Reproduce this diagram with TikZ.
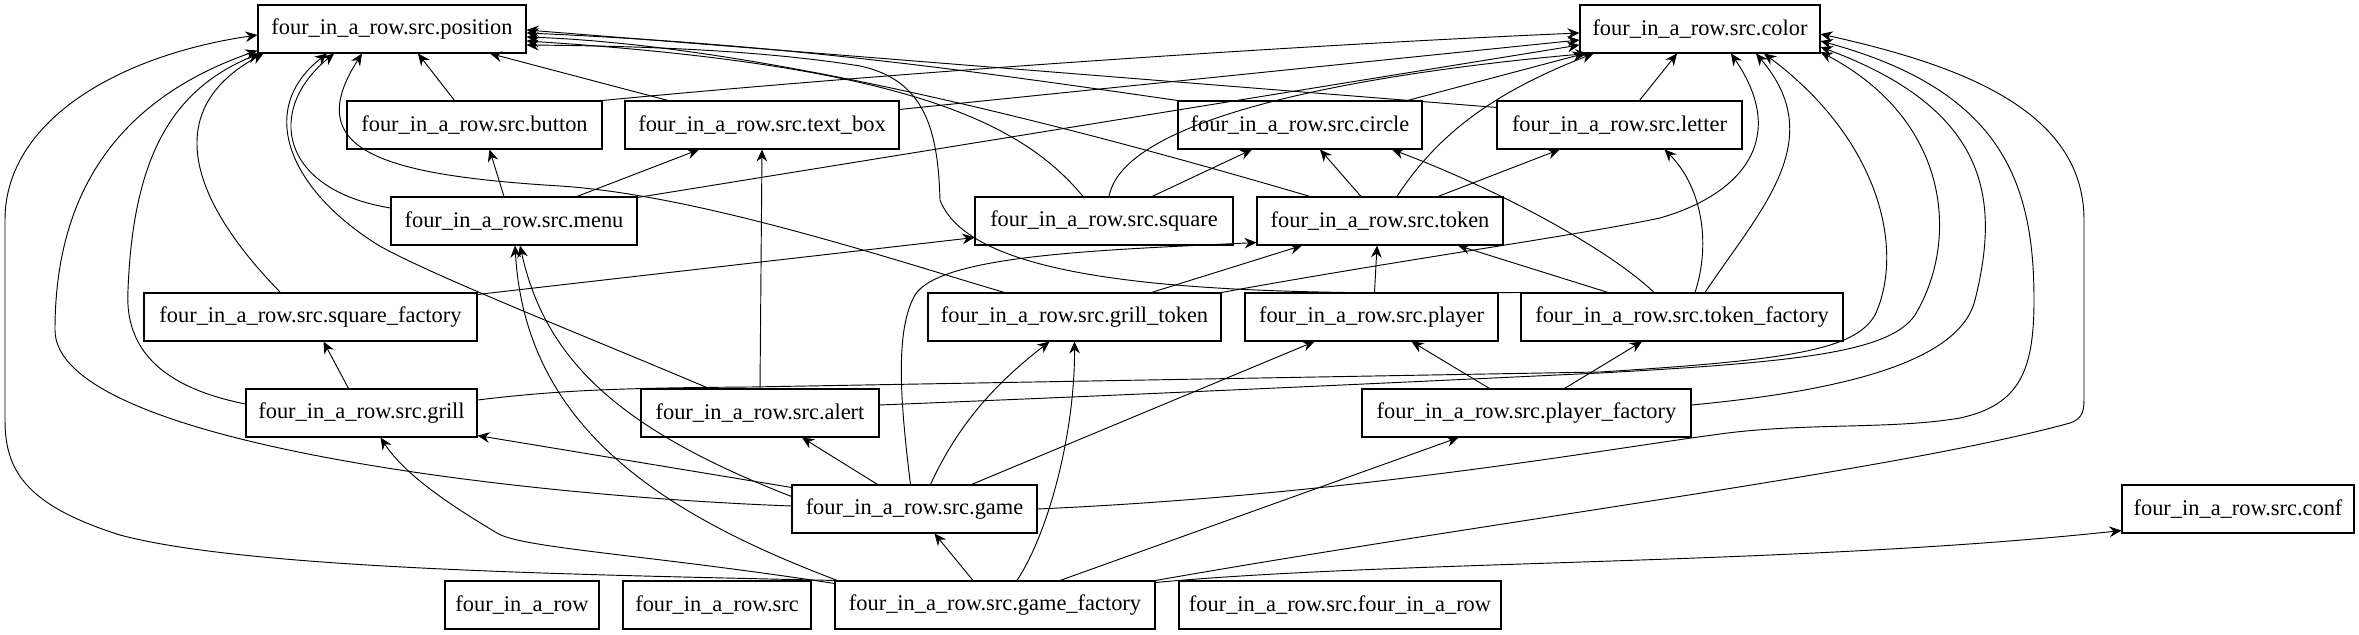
\documentclass[tikz,border=0pt]{standalone}
\usepackage{fontspec}
\setmainfont{Liberation Serif}
\usetikzlibrary{arrows.meta,calc}
\begin{document}
\begin{tikzpicture}[x=0.75pt,y=-0.75pt,
  box/.style={draw, line width=0.8pt, rectangle, minimum height=36pt, inner sep=0pt, font=\fontsize{16.8}{20}\selectfont},
  dep/.style={-{Stealth[length=9pt,width=8pt,inset=3pt]}, line width=0.7pt}]
\fill[white] (0,0) rectangle (2359,635);
\useasboundingbox (0,0) rectangle (2359,635);
% nodes
\node[box, minimum width=201pt]    (position)      at (392,29)    {four\_in\_a\_row.src.position};
\node[box, minimum width=180pt]    (color)         at (1700,29)   {four\_in\_a\_row.src.color};
\node[box, minimum width=191.25pt] (button)        at (474.5,125) {four\_in\_a\_row.src.button};
\node[box, minimum width=205.5pt]  (textbox)       at (762,125)   {four\_in\_a\_row.src.text\_box};
\node[box, minimum width=183pt]    (circle)        at (1300,125)  {four\_in\_a\_row.src.circle};
\node[box, minimum width=183.75pt] (letter)        at (1619.5,125){four\_in\_a\_row.src.letter};
\node[box, minimum width=184.5pt]  (menu)          at (514,221)   {four\_in\_a\_row.src.menu};
\node[box, minimum width=193.5pt]  (square)        at (1104,221)  {four\_in\_a\_row.src.square};
\node[box, minimum width=184.5pt]  (token)         at (1380,221)  {four\_in\_a\_row.src.token};
\node[box, minimum width=249.75pt] (squarefactory) at (310.5,317) {four\_in\_a\_row.src.square\_factory};
\node[box, minimum width=219.75pt] (grilltoken)    at (1074.5,317){four\_in\_a\_row.src.grill\_token};
\node[box, minimum width=189.75pt] (player)        at (1371.5,317){four\_in\_a\_row.src.player};
\node[box, minimum width=241.5pt]  (tokenfactory)  at (1682,317)  {four\_in\_a\_row.src.token\_factory};
\node[box, minimum width=173.25pt] (grill)         at (361.5,413) {four\_in\_a\_row.src.grill};
\node[box, minimum width=178.5pt]  (alert)         at (760,413)   {four\_in\_a\_row.src.alert};
\node[box, minimum width=246.75pt] (playerfactory) at (1526.5,413){four\_in\_a\_row.src.player\_factory};
\node[box, minimum width=183.75pt] (game)          at (914.5,509) {four\_in\_a\_row.src.game};
\node[box, minimum width=174pt]    (conf)          at (2238,509)  {four\_in\_a\_row.src.conf};
\node[box, minimum width=115.5pt]  (pkg)           at (522,605)   {four\_in\_a\_row};
\node[box, minimum width=141pt]    (src)           at (717,605)   {four\_in\_a\_row.src};
\node[box, minimum width=240pt]    (gamefactory)   at (995,605)   {four\_in\_a\_row.src.game\_factory};
\node[box, minimum width=241.5pt]  (srcfour)       at (1340,605)  {four\_in\_a\_row.src.four\_in\_a\_row};

% ---- edges into position
\draw[dep] ($(button.north)+(-20,0)$) -- ($(position.south)+(26,0)$);
\draw[dep] ($(textbox.north)+(-94,0)$) -- ($(position.south)+(98,0)$);
\draw[dep] ($(letter.north west)+(0,7)$) -- ($(position.east)+(0,1)$);
\draw[dep] (circle.north west) .. controls (1000,75) and (800,45) .. ($(position.east)+(0,4)$);
\draw[dep] ($(token.north)+(-70,0)$) .. controls (1050,120) and (750,45) .. ($(position.east)+(0,8)$);
\draw[dep] ($(square.north)+(-21,0)$) .. controls (1020,120) and (900,65) .. ($(position.east)+(0,12)$);
\draw[dep] (tokenfactory.north west) .. controls (1250,295) and (975,292) .. (940,200)
   .. controls (938,130) and (925,80) .. (860,66) .. controls (760,50) and (640,46) .. ($(position.east)+(0,16)$);
\draw[dep] ($(grilltoken.north)+(-70,0)$) .. controls (900,262) and (700,195) .. (560,186)
   .. controls (380,175) and (300,150) .. ($(position.south)+(-30,0)$);
\draw[dep] ($(menu.west)+(0,-13)$) .. controls (280,190) and (265,110) .. ($(position.south)+(-58,0)$);
\draw[dep] ($(alert.north)+(-51,0)$) .. controls (600,342) and (430,275) .. (378,245)
   .. controls (290,190) and (255,110) .. ($(position.south)+(-65,0)$);
\draw[dep] ($(squarefactory.north)+(-30,0)$) .. controls (190,200) and (160,110) .. ($(position.south west)+(6,0)$);
\draw[dep] ($(grill.west)+(0,-9)$) .. controls (150,385) and (125,340) .. (128,290)
   .. controls (133,160) and (170,90) .. ($(position.south west)+(2,0)$);
\draw[dep] ($(game.west)+(0,-3)$) .. controls (500,495) and (55,440) .. (55,330)
   .. controls (55,180) and (130,95) .. ($(position.south west)+(0,-3)$);
\draw[dep] (gamefactory.north west) .. controls (600,575) and (250,570) .. (120,535)
   .. controls (25,505) and (5,470) .. (5,420) -- (5,220)
   .. controls (5,120) and (120,55) .. ($(position.west)+(0,6)$);

% ---- edges into color
\draw[dep] (button.north east) .. controls (900,72) and (1300,45) .. ($(color.west)+(0,4)$);
\draw[dep] ($(textbox.north east)+(0,9)$) -- ($(color.west)+(0,11)$);
\draw[dep] ($(menu.north east)+(0,1)$) -- ($(color.west)+(0,16)$);
\draw[dep] ($(circle.north east)+(-15,0)$) -- ($(color.south west)+(5,0)$);
\draw[dep] ($(square.north)+(5,0)$) .. controls (1125,110) and (1400,70) .. ($(color.south west)+(8,0)$);
\draw[dep] ($(token.north)+(17,0)$) .. controls (1440,130) and (1500,90) .. ($(color.south west)+(14,0)$);
\draw[dep] ($(letter.north)+(20,0)$) -- ($(color.south)+(-23,0)$);
\draw[dep] (grilltoken.north east) .. controls (1400,260) and (1580,235) .. (1660,218)
   .. controls (1740,195) and (1790,140) .. ($(color.south)+(31,0)$);
\draw[dep] ($(tokenfactory.north)+(23,0)$) .. controls (1760,210) and (1830,140) .. ($(color.south)+(56,0)$);
\draw[dep] ($(grill.east)+(0,-13)$) .. controls (560,390) and (620,388) .. (750,387) -- (1600,372)
   .. controls (1790,360) and (1855,350) .. (1875,315) .. controls (1905,250) and (1880,140) .. ($(color.south)+(64,0)$);
\draw[dep] ($(alert.east)+(0,-8)$) .. controls (1200,392) and (1450,380) .. (1600,373)
   .. controls (1800,362) and (1890,352) .. (1915,315) .. controls (1960,240) and (1950,120) .. ($(color.east)+(0,23)$);
\draw[dep] ($(playerfactory.east)+(0,-8)$) .. controls (1850,390) and (1960,360) .. (1975,300)
   .. controls (2000,200) and (1990,110) .. ($(color.east)+(0,18)$);
\draw[dep] (game.east) .. controls (1350,495) and (1600,450) .. (1713,435)
   .. controls (1800,422) and (1890,430) .. (1960,418) .. controls (2020,405) and (2034,370) .. (2034,300)
   .. controls (2034,180) and (2000,90) .. ($(color.east)+(0,12)$);
\draw[dep] (gamefactory.north east) .. controls (1500,520) and (1900,470) .. (2070,423)
   .. controls (2084,418) and (2084,410) .. (2084,395) -- (2084,220)
   .. controls (2084,110) and (1960,65) .. ($(color.east)+(0,5)$);

% ---- middle edges
\draw[dep] ($(menu.north)+(-10,0)$) -- ($(button.south)+(15,0)$);
\draw[dep] ($(menu.north)+(63,0)$) -- ($(textbox.south)+(-63,0)$);
\draw[dep] (alert.north) -- (textbox.south);
\draw[dep] ($(grill.north)+(-13,0)$) -- ($(squarefactory.south)+(13,0)$);
\draw[dep] ($(squarefactory.north east)+(0,2)$) -- ($(square.south west)+(0,-8)$);
\draw[dep] ($(square.north)+(48,0)$) -- ($(circle.south)+(-48,0)$);
\draw[dep] ($(token.north)+(-19,0)$) -- ($(circle.south)+(20,0)$);
\draw[dep] ($(token.north)+(58,0)$) -- ($(letter.south)+(-60,0)$);
\draw[dep] ($(grilltoken.north)+(77,0)$) -- ($(token.south)+(-78,0)$);
\draw[dep] ($(player.north)+(3,0)$) -- ($(token.south)+(-3,0)$);
\draw[dep] ($(tokenfactory.north)+(-74,0)$) -- ($(token.south)+(78,0)$);
\draw[dep] ($(tokenfactory.north)+(-28,0)$) .. controls (1610,250) and (1500,190) .. ($(circle.south)+(92,0)$);
\draw[dep] ($(tokenfactory.north)+(13,0)$) .. controls (1712,240) and (1700,185) .. ($(letter.south)+(45,0)$);
\draw[dep] ($(playerfactory.north)+(-37,0)$) -- ($(player.south)+(40,0)$);
\draw[dep] ($(playerfactory.north)+(38,0)$) -- ($(tokenfactory.south)+(-40,0)$);

% ---- from game
\draw[dep] ($(game.north west)+(0,12)$) .. controls (620,430) and (545,360) .. ($(menu.south)+(6,0)$);
\draw[dep] ($(game.north west)+(0,3)$) -- ($(grill.south east)+(0,-2)$);
\draw[dep] ($(game.north)+(-37,0)$) -- ($(alert.south)+(42,0)$);
\draw[dep] ($(game.north)+(16,0)$) .. controls (960,420) and (1000,380) .. ($(grilltoken.south)+(-25,0)$);
\draw[dep] ($(game.north)+(57,0)$) -- ($(player.south)+(-57,0)$);
\draw[dep] ($(game.north)+(-4,0)$) .. controls (900,400) and (895,330) .. (915,295)
   .. controls (940,255) and (1100,250) .. ($(token.south west)+(0,-3)$);

% ---- from game_factory
\draw[dep] ($(gamefactory.north)+(-22,0)$) -- ($(game.south)+(20,0)$);
\draw[dep] ($(gamefactory.north)+(22,0)$) .. controls (1050,530) and (1075,430) .. (grilltoken.south);
\draw[dep] ($(gamefactory.north)+(65,0)$) -- ($(playerfactory.south)+(-68,0)$);
\draw[dep] ($(gamefactory.north west)+(3,0)$) .. controls (650,510) and (525,420) .. ($(menu.south)+(1,0)$);
\draw[dep] ($(gamefactory.north west)+(0,3)$) .. controls (650,555) and (520,548) .. (497,533)
   .. controls (450,505) and (405,475) .. ($(grill.south)+(19,0)$);
\draw[dep] ($(gamefactory.north east)+(0,2)$) .. controls (1400,560) and (1800,565) .. ($(conf.south west)+(0,-3)$);
\end{tikzpicture}
\end{document}
